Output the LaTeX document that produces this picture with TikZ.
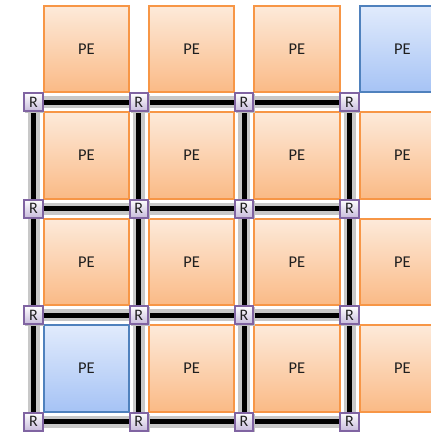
\documentclass[tikz,border=0pt]{standalone}
\usepackage{fontspec}
\setmainfont{Carlito}
\definecolor{peTop}{RGB}{253,234,218}
\definecolor{peBot}{RGB}{250,186,134}
\definecolor{peLine}{RGB}{247,150,70}
\definecolor{blTop}{RGB}{225,235,252}
\definecolor{blBot}{RGB}{166,195,245}
\definecolor{blLine}{RGB}{79,129,189}
\definecolor{rtBot}{RGB}{200,188,220}
\definecolor{rtLine}{RGB}{128,100,162}
\definecolor{haloGray}{RGB}{200,200,200}
\begin{document}
\begin{tikzpicture}[x=1pt,y=-1pt,
  pebox/.style={draw=peLine,line width=2pt,top color=peTop,bottom color=peBot,
    minimum width=85.5pt,minimum height=86.5pt,inner sep=0pt,
    font=\fontsize{16.5}{18}\selectfont,text=black!88},
  pebl/.style={pebox,draw=blLine,top color=blTop,bottom color=blBot},
  router/.style={draw=rtLine,line width=2pt,top color=white,bottom color=rtBot,
    minimum width=18.5pt,minimum height=18pt,inner sep=0pt,
    font=\fontsize{16}{17}\selectfont,text=black!88},
  halolink/.style={draw=haloGray,line width=12pt},
  link/.style={draw=black,line width=5pt}]
\useasboundingbox (0,0) rectangle (431,434);
\clip (0,0) rectangle (431,434);
% coordinates
\foreach \i/\x in {0/33.5,1/138.8,2/244,3/349.5}{
  \foreach \j/\y in {0/102,1/208.5,2/315,3/421.5}{
    \coordinate (c\i\j) at (\x,\y);
  }
}
% PE boxes
\foreach \i/\x in {0/86.3,1/191.6,2/296.8,3/402.3}{
  \foreach \j/\y in {0/49,1/155.3,2/261.8,3/368.3}{
    \node[pebox] (pe\i\j) at (\x,\y) {PE};
  }
}
\node[pebl] (pe30b) at (402.3,49) {PE};
\node[pebl] (pe03b) at (86.3,368.3) {PE};
% links
\foreach \j in {0,1,2,3}{
  \draw[halolink] (c0\j) -- (c3\j);
  \draw[halolink] (c\j0) -- (c\j3);
}
\foreach \j in {0,1,2,3}{
  \draw[link] (c0\j) -- (c3\j);
  \draw[link] (c\j0) -- (c\j3);
}
% routers
\foreach \i in {0,1,2,3}{
  \foreach \j in {0,1,2,3}{
    \fill[black!25] ([xshift=1.3pt,yshift=-1.3pt]c\i\j) ++(-9.5,-9.25) rectangle ++(19,18.5);
    \node[router] (r\i\j) at (c\i\j) {R};
  }
}
\end{tikzpicture}
\end{document}
